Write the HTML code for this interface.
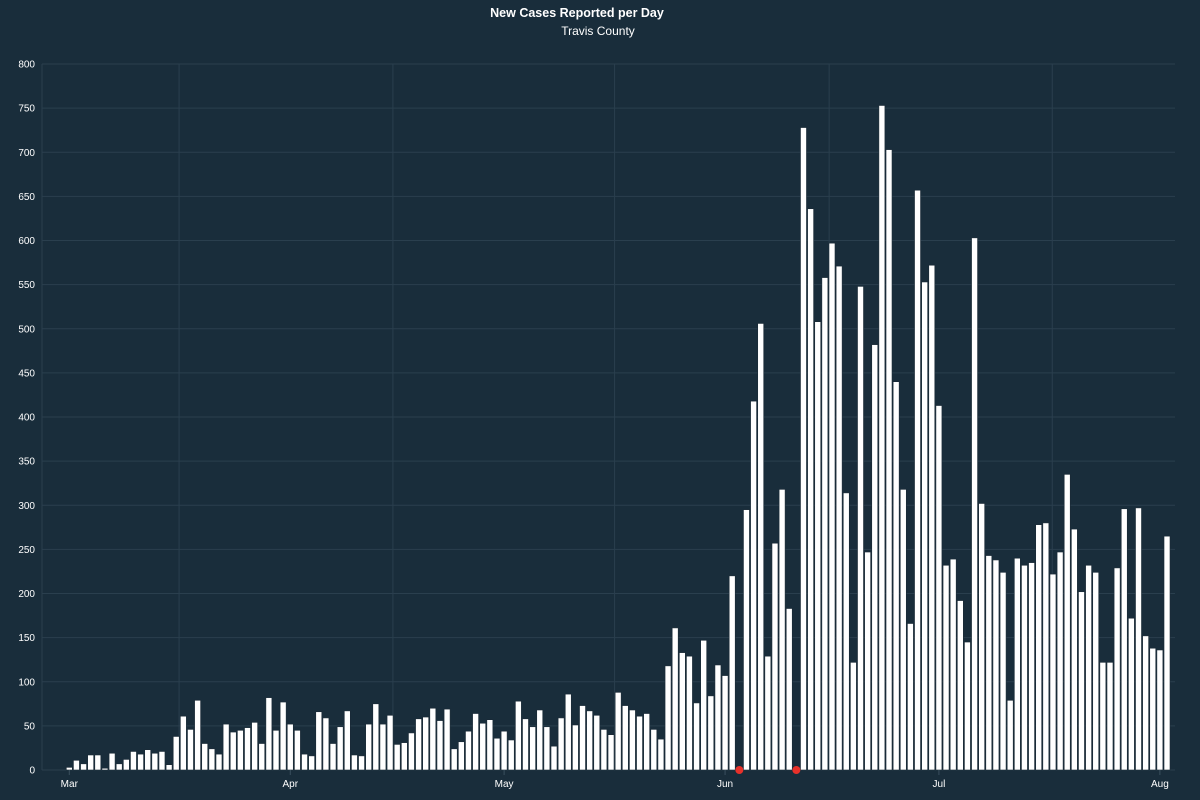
<!DOCTYPE html>
<html><head><meta charset="utf-8"><style>
html,body{margin:0;padding:0;background:#192d3b;}
svg{display:block;font-family:"Liberation Sans",sans-serif;}
</style></head><body>
<svg id="chart" width="1200" height="800">
<rect width="1200" height="800" fill="#192d3b"/>
<text x="577" y="17" fill="#fff" font-size="12.5" font-weight="bold" text-anchor="middle">New Cases Reported per Day</text>
<text x="598" y="35" fill="#fff" font-size="12" text-anchor="middle">Travis County</text>
<g id="grid"></g><g id="bars"></g><g id="axes"></g>
</svg>
<script>
const values=[3,11,7,17,17,2,19,7,12,21,18,23,19,21,6,38,61,46,79,30,24,18,52,43,45,48,54,30,82,45,77,
52,45,18,16,66,59,30,49,67,17,16,52,75,52,62,29,31,42,58,60,70,56,69,24,32,44,64,53,57,36,
44,34,78,58,49,68,49,27,59,86,51,73,67,62,46,40,88,73,68,61,64,46,35,118,161,133,129,76,147,84,119,107,
220,0,295,418,506,129,257,318,183,0,728,636,508,558,597,571,314,122,548,247,482,753,703,440,318,166,657,553,572,
413,232,239,192,145,603,302,243,238,224,79,240,232,235,278,280,222,247,335,273,202,232,224,122,122,229,296,172,297,152,138,
136,265];
const zeroMarkers=[95,103];
const yTicks=[0,50,100,150,200,250,300,350,400,450,500,550,600,650,700,750,800];
const monthLabels=["Mar","Apr","May","Jun","Jul","Aug"];
const monthStarts=[1,32,62,93,123,154];
const midGrid=[16.4,46.4,77.5,107.6,138.9];
const NS="http://www.w3.org/2000/svg";
const x0=69.3,dx=7.128,yBase=770,yScale=706/800;
const X=d=>x0+(d-1)*dx;
const Y=v=>yBase-v*yScale;
const grid=document.getElementById('grid'),bars=document.getElementById('bars'),axes=document.getElementById('axes');
function mk(tag,attrs,parent){const e=document.createElementNS(NS,tag);for(const k in attrs)e.setAttribute(k,attrs[k]);parent.appendChild(e);return e;}
yTicks.forEach(t=>{
  const l=mk('line',{x1:42,x2:1175,y1:Y(t),y2:Y(t),stroke:'#2a3f4e','stroke-width':1},grid);
  
  
  const tx=mk('text',{x:35,y:Y(t)+3.5,fill:'#fff','font-size':10,'text-anchor':'end'},axes);
  tx.textContent=t;
  
  
});
mk('line',{x1:42,x2:42,y1:64,y2:770,stroke:'#2a3f4e'},grid);
midGrid.forEach(d=>{
  const l=mk('line',{x1:X(d),x2:X(d),y1:64,y2:770,stroke:'#2a3f4e','stroke-width':1},grid);
  
  
});
values.forEach((v,i)=>{
  const d=i+1;
  if(v<=0)return;
  const r=mk('rect',{x:X(d)-3,y:Y(v),width:6,height:yBase-Y(v),fill:'#fff',stroke:'#1a2a36','stroke-width':0.6},bars);
  
  
});
zeroMarkers.forEach(d=>{
  const c=mk('circle',{cx:X(d),cy:yBase,r:4,fill:'#e8312a'},bars);
  
  
});
monthLabels.forEach((m,i)=>{
  const d=monthStarts[i];
  const tk=mk('line',{x1:X(d),x2:X(d),y1:770,y2:775,stroke:'#3a4f5e'},axes);
  
  
  const t=mk('text',{x:X(d),y:787,fill:'#fff','font-size':10,'text-anchor':'middle'},axes);
  t.textContent=m;
  
  
});
</script>
</body></html>
